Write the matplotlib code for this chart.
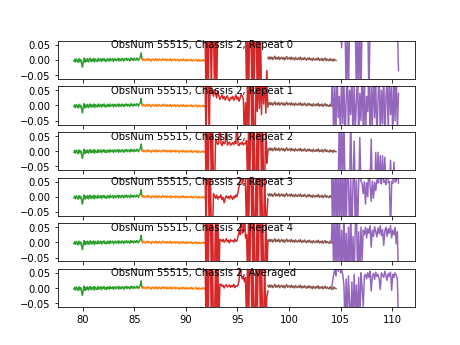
import numpy as np
import matplotlib
matplotlib.use("Agg")
import matplotlib.pyplot as plt

# panel labels
labels = ["ObsNum 55515, Chassis 2, Repeat 0",
          "ObsNum 55515, Chassis 2, Repeat 1",
          "ObsNum 55515, Chassis 2, Repeat 2",
          "ObsNum 55515, Chassis 2, Repeat 3",
          "ObsNum 55515, Chassis 2, Repeat 4",
          "ObsNum 55515, Chassis 2, Averaged"]

# x range of each segment (green, orange, red, brown, purple)
seg_start = [79.15, 85.75, 91.85, 97.95, 104.1]
seg_end = [85.75, 91.85, 97.95, 104.55, 110.6]
seg_colors = ["tab:green", "tab:orange", "tab:red", "tab:brown", "tab:purple"]

# values, in units of 1e-3
green = [-4, 2, -7, 3, -2, -8, 4, -5, 1, -12, -24, -4, 6, -8, 2, -5, 4, -7, 0, 5,
         -6, 2, -4, 5, -7, 3, -2, -5, 5, -4, 1, 4, -6, 3, -2, 5, -4, 1, -5, 4,
         2, -4, 5, -2, 0, 4, -5, 2, 4, -3, 1, 5, -4, 4, 0, -3, 5, 2, -4, 4,
         0, 5, -2, 4, 1, -3, 6, 0, 4, -2, 5, 1, -1, 6, 3, -2, 5, 8, 23, 2]

orange = [3, -2, 4, 0, -3, 2, 4, -2, 3, 0, -4, 2, 3, -2, 0, 4, -3, 2, -2, 3,
          0, -3, 2, 4, -2, 0, 3, -3, 2, -2, 0, 3, -4, 2, 0, -2, 3, -3, 0, 2,
          -2, -4, 2, 0, -3, 3, -2, 0, -4, 2, -2, -3, 1, -2, 2, -4, 0, -3, -1, 2,
          -3, -5, 1, -2, -4, -1, -3, 1, -4, -1]

brown = [8, 2, 10, 3, 9, 1, 6, 12, 2, 8, 3, 10, 1, 6, 9, 2, 8, 0, 6, 11,
         2, 5, 8, 1, 9, 2, 6, 0, 8, 3, 1, 7, 2, 9, 0, 5, 1, 8, 2, -1,
         6, 1, 7, 0, 4, -2, 6, 1, -1, 5, 0, 7, -2, 3, -1, 5, -3, 2, 6, -2,
         3, -1, -3, 4, -2, 2, -4, 3, -1, -2]

red_runs = [
    [120, -120, 120, -120, 120, 120, -120, 120, 120, -120, 120, -120,
     120, 120, 120, 120, 120, 120, 120, 120, 120, 120, 120, 120, 120, 120,
     120, 120, 120, 120, 120, 120, 120, 120, 120, 120, 120, 120, 120,
     -120, 120, -120, 120, 120, -120, 120, -120, 120, 120, -120, 120, -120, 120, -120,
     -120, -120, -120, -120, -35, -120],
    [120, -120, 120, 120, -120, 120, 40,
     45, 30, 52, 38, 25, 48, 33, 20, 28, 35, 22, 30, 18, 26, 32, 20, 15, 27, 22, 30,
     17, 24, 35, 20, 28, 14, 25, 38, 30, 22,
     -120, 10,
     -120, 120, -120, 120, 120, -120, 120, -120, -120,
     120, -20, 120, -10, 120, -30, 120, 5, 120, -25, 80, -5],
    [120, -120, 120, -120, 120, 120, -120, 120, -120, -120, 40,
     30, 22, 28, 120, 25, 18, 32, 24, 27, 120, 20, 26, 30, 19, 24, 28, 21, 33, 25,
     120, 22, 18, 27, 23, 30, 20, 26, 24, 35,
     -120, 120, -120, 120, 120, -120, 120, -120, -120, 120, -120, 120, 120, -120,
     120, -120, -120, 120,
     -40, 0],
    [120, -120, 120, 120, -120, 120, -120, -120, 10,
     2, -5, 5, -8, 0, -3, 6, -10, -2, -20, -6, 3, -4, 1, -7, 4, -2, -9, 2, -4, 6, 0,
     15, 35, 50, 120, 42, 55, 120, 30,
     -120, 120, -120, 120, 120, -120, 120, -120, -120, 120, -120, 120, 120, -120,
     120, -120, -120, 120, -120,
     -60, -7],
    [120, -120, 120, -120, 120, 120, -120, 120, -120, -120, 120, -120, 120, -120, 10,
     8, 3, 10, 0, 5, 12, 2, 7, -2, 9, 4, 6, 1, 11, 3, 5,
     20, 37, 25, 120, 30, 35, 120, 15, 25,
     -120, 120, -120, 120, 120, -120, 120, -120, -120, 120, -120, 120, 120, -120,
     120, -120, -120, 120, -120,
     5],
    [120, -120, 120, -120, 120, 120, -120, 120, -120, -120, 120, -120, 120, -120, 12,
     13, 5, 9, 0, 7, 11, 3, 6, 10, 2, 8, 4, 12, 1, 7, 5, 9,
     25, 120, 40, 30, 38, 20, 35,
     -120, 120, -120, 120, 120, -120, 120, -120, -120, 120, -120, 120, 120, -120,
     120, -120, -120, 120, -120,
     -30, -10],
]

purple_runs = [
    [120, 120, 120, 120, 120, 120, 120, 120, 120, 40, 120, 120, 120, -120, 120,
     -120, 120, 120, 120, 120, 120, 120, -120, 120, -120, 120, -120, 120, 120, 120,
     120, 120, 120, -120, 120, 120, 120, 120, 120, 120, 120, 120, 120, 120, 120,
     120, 120, 120, 120, 120, 120, 120, 120, 120, 120, 120, 120, 120, 120, -35],
    [0, 120, -120, 60, -90, 120, -40, 30, -120, 120, -60, 80, -120, 20, 120,
     -100, 50, -30, 120, -120, 70, -80, 10, 120, -120, 40, -50, 120, -90, 100,
     -120, 30, -20, 120, -120, 60, -70, 120, -40, 90, -120, 20, 120, -110, 50,
     -60, 120, -120, 30, 80, -90, 120, -30, 60, -120, 100, -50, 120, -80, 40],
    [-120, -120, -120, -120, -120, -120, -120, 120, -120, 120, -120, 120, -120, -120, -120,
     -120, -120, 120, -120, -120, 33, -120, -120, -120, -120, 45, -120, -120, -120, -120,
     -120, -120, -120, -120, -120, 40, -120, -120, -120, -4, -120, -4, -120, -15, -120,
     -15, -120, -20, -120, -120, -120, -120, -30, -120, -120, -36, -120, -120, -120, -120],
    [120, -120, 120, -120, 120, -120, 120, -120, 120, -120, 120, -120, 120, -120, 120,
     50, -120, 60, -120, 45, 120, -120, 55, -120,
     48, 120, 52, 44,
     10, 50, -24, 46, 0, 120, 40, -15, 52, -5, 48, 20, 55,
     45, 120, 50, 42, 120, 48, 53, 40, 120, 46, 50,
     -120,
     50, 44, 120, 48, 52, 120, 45],
    [0, 120, -120, 120, -120, 120, -120, 120,
     -120, 40, -120, 120, -120, 30, -120, 50, -120, 120, -120, 20, -120, 45, 120, -120,
     35, -120, 50, -60, 40,
     25, 50, 15, 45, 30, 55, -16, 40, 20, 52, 35, 18, 48, 28, 55, 22, 42, -10, 38, 50,
     20, 45, 30, 55, 15, 40, 25, 50, -5, 35,
     -120],
    [-5, 20, 45, 60, 40, 120,
     55, 120, 50, 60, 45,
     10, -120, 30, -120, 40, -50, -120, 20, -120, 45, -80, 10, -120, 35, -120, 50, 0,
     -60, 40,
     45, 30, 50, 35, 55, -10, 40, 48, 28, 52, 38, 45, 30, -5, 50, 42, 35, 55, 40, 25,
     48, 38, 52, -8, 45, 35, 50, 42, 30,
     -120],
]

scale = 1e-3

fig, axes = plt.subplots(6, 1, sharex=True, figsize=(6.4, 4.8), dpi=72)

for k, ax in enumerate(axes):
    series = [green, orange, red_runs[k], brown, purple_runs[k]]
    for vals, x0, x1, c in zip(series, seg_start, seg_end, seg_colors):
        x = np.linspace(x0, x1, len(vals))
        ax.plot(x, np.array(vals) * scale, color=c)
    ax.set_ylim(-0.0627, 0.0627)
    ax.set_yticks([-0.05, 0.0, 0.05])
    ax.text(82.75, 0.05, labels[k], va="center")

fig.savefig("out.png", dpi=72)
